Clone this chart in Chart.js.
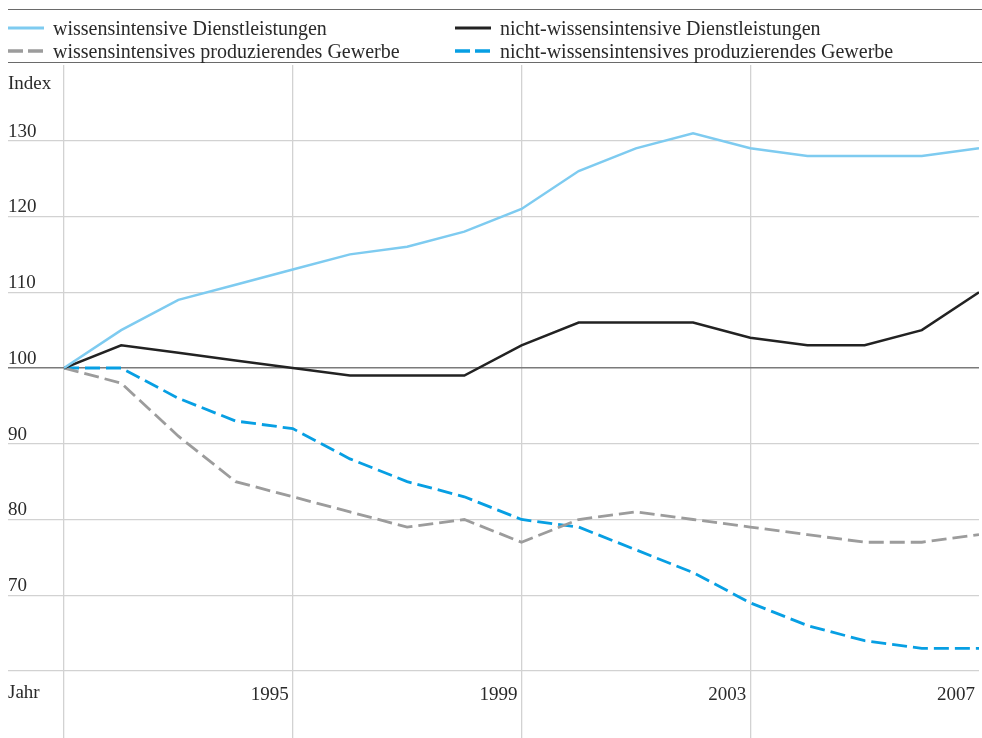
<!DOCTYPE html>
<html>
<head>
<meta charset="utf-8">
<script src="https://cdn.jsdelivr.net/npm/chart.js@4.4.1/dist/chart.umd.min.js"></script>
<style>
html,body{margin:0;padding:0;background:#fff;}
#wrap{position:relative;width:982px;height:738px;overflow:hidden;}
#c{position:absolute;left:0;top:0;}
#legend{position:absolute;left:8px;top:9px;width:974px;height:52px;border-top:1.5px solid #6a6a6a;border-bottom:1.5px solid #6a6a6a;font-family:"Liberation Serif","Times New Roman",serif;font-size:20px;color:#2a2a2a;}
.item{position:absolute;display:flex;align-items:center;height:22px;white-space:nowrap;}
.item svg{margin-right:9px;}
</style>
</head>
<body>
<div id="wrap">
<canvas id="c" width="982" height="738"></canvas>
<div id="legend"></div>
</div>
<script>
const years = [1991,1992,1993,1994,1995,1996,1997,1998,1999,2000,2001,2002,2003,2004,2005,2006,2007];
const wissDienst = [100,105,109,111,113,115,116,118,121,126,129,131,129,128,128,128,129];
const nichtWissDienst = [100,103,102,101,100,99,99,99,103,106,106,106,104,103,103,105,110];
const wissProd = [100,98,91,85,83,81,79,80,77,80,81,80,79,78,77,77,78];
const nichtWissProd = [100,100,96,93,92,88,85,83,80,79,76,73,69,66,64,63,63];
const seriesNames = ['wissensintensive Dienstleistungen','nicht-wissensintensive Dienstleistungen','wissensintensives produzierendes Gewerbe','nicht-wissensintensives produzierendes Gewerbe'];
const xTicks = [1991,1995,1999,2003,2007];
const yTicks = [60,70,80,90,100,110,120,130,140];
const yAxisLabel = 'Index';
const xAxisLabel = 'Jahr';

const FONT = '"Liberation Serif","Times New Roman",serif';
const TXT = '#2a2a2a';

function pts(arr){ return arr.map((v,i)=>({x:years[i], y:v})); }

const datasets = [
  {label:seriesNames[0], data:pts(wissDienst), borderColor:'#7ecbf0', borderWidth:2.5, borderDash:[]},
  {label:seriesNames[1], data:pts(nichtWissDienst), borderColor:'#222222', borderWidth:2.5, borderDash:[]},
  {label:seriesNames[2], data:pts(wissProd), borderColor:'#9c9c9c', borderWidth:2.8, borderDash:[15,6]},
  {label:seriesNames[3], data:pts(nichtWissProd), borderColor:'#079fe3', borderWidth:2.8, borderDash:[15,6]}
].map(d=>Object.assign(d,{pointRadius:0, tension:0, fill:false}));

// HTML legend (two columns, two rows)
const legend = document.getElementById('legend');
const placement = {0:[0,9],1:[447,9],2:[0,32],3:[447,32]};
datasets.forEach((d,i)=>{
  const el = document.createElement('div');
  el.className='item';
  el.style.left = placement[i][0]+'px';
  el.style.top = (placement[i][1]-2)+'px';
  const dash = d.borderDash.length ? 'stroke-dasharray="15 5"' : '';
  el.innerHTML = '<svg width="36" height="6"><line x1="0" y1="3" x2="36" y2="3" stroke="'+d.borderColor+'" stroke-width="'+(d.borderWidth+0.5)+'" '+dash+'/></svg><span>'+d.label+'</span>';
  legend.appendChild(el);
});

const axisText = {
  id:'axisText',
  afterDraw(chart){
    const c = chart.ctx, a = chart.chartArea;
    c.save();
    c.font = '19px '+FONT;
    c.fillStyle = TXT;
    c.textBaseline = 'middle';
    c.textAlign = 'left';
    c.fillText(yAxisLabel, 8, a.top + 19);
    c.fillText(xAxisLabel, 8, a.bottom + 22);
    c.restore();
  }
};

new Chart(document.getElementById('c'), {
  type:'line',
  data:{datasets},
  options:{
    responsive:false,
    animation:false,
    layout:{padding:{left:8,right:3,top:65,bottom:0}},
    plugins:{legend:{display:false},tooltip:{enabled:false}},
    scales:{
      x:{
        type:'linear', min:1991, max:2007, position:'bottom',
        afterBuildTicks:s=>{ s.ticks = xTicks.map(v=>({value:v})); },
        afterFit:s=>{ s.height = 67; },
        border:{display:false},
        grid:{
          color:ctx=> (ctx.tick && ctx.tick.value===2007) ? 'rgba(0,0,0,0)' : '#d2d2d2',
          lineWidth:1.3, tickLength:67
        },
        ticks:{
          callback:v=> v===1991 ? '' : String(v),
          align:'end', labelOffset:-4, padding:-54, autoSkip:false, maxRotation:0,
          font:{family:FONT,size:19}, color:TXT
        }
      },
      y:{
        type:'linear', min:60, max:140, position:'left',
        afterBuildTicks:s=>{ s.ticks = yTicks.map(v=>({value:v})); },
        afterFit:s=>{ s.width = 56; },
        border:{display:false},
        grid:{
          color:ctx=>{
            const v = ctx.tick ? ctx.tick.value : null;
            if (v===140) return 'rgba(0,0,0,0)';
            if (v===100) return '#7a7a7a';
            return '#d2d2d2';
          },
          lineWidth:ctx=> (ctx.tick && ctx.tick.value===100) ? 1.6 : 1.3,
          tickLength:56
        },
        ticks:{
          callback:v=> (v===60||v===140) ? '' : String(v),
          crossAlign:'far', labelOffset:-9, padding:0, autoSkip:false,
          font:{family:FONT,size:19}, color:TXT
        }
      }
    }
  },
  plugins:[axisText]
});
</script>
</body>
</html>
